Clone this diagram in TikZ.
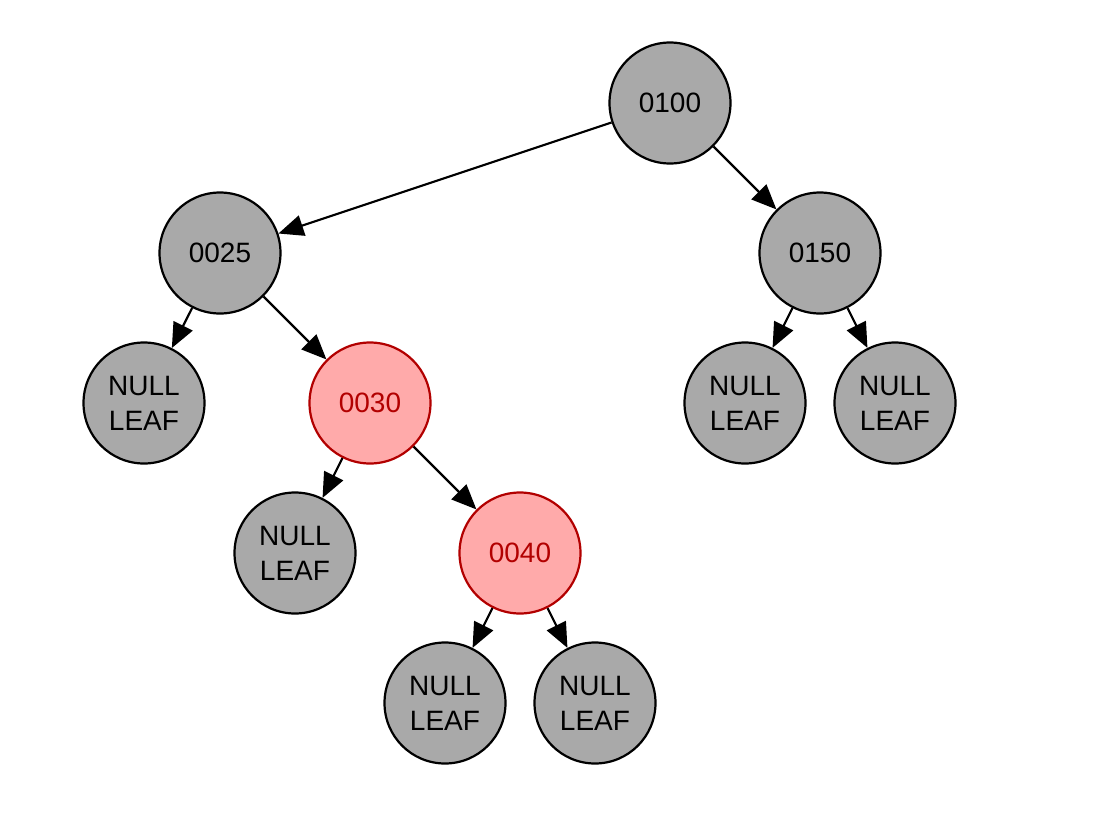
\documentclass[tikz,border=0pt]{standalone}
\usepackage{fontspec}
\setmainfont{Liberation Sans}
\usetikzlibrary{arrows.meta}
\definecolor{nodegray}{RGB}{169,169,169}
\definecolor{redfill}{RGB}{255,170,170}
\definecolor{redline}{RGB}{178,0,0}
\begin{document}
\begin{tikzpicture}[x=1pt,y=-1pt,
  treenode/.style={circle,draw=black,line width=2.2pt,fill=nodegray,minimum size=121pt,inner sep=0pt,
    font=\fontsize{28}{35}\selectfont,align=center,text=black},
  rednode/.style={treenode,draw=redline,fill=redfill,text=redline},
  edge/.style={line width=2.2pt,-{Triangle[length=25pt,width=21pt]}}]
\useasboundingbox (0,0) rectangle (1112,836);
\node[treenode] (n100) at (670,103) {0100};
\node[treenode] (n25)  at (220,253) {0025};
\node[treenode] (n150) at (820,253) {0150};
\node[treenode] (l1)   at (144,403) {NULL\\LEAF};
\node[rednode]  (n30)  at (370,403) {0030};
\node[treenode] (l2)   at (745,403) {NULL\\LEAF};
\node[treenode] (l3)   at (895,403) {NULL\\LEAF};
\node[treenode] (l4)   at (295,553) {NULL\\LEAF};
\node[rednode]  (n40)  at (520,553) {0040};
\node[treenode] (l5)   at (445,703) {NULL\\LEAF};
\node[treenode] (l6)   at (595,703) {NULL\\LEAF};
\draw[edge] (n100) -- (n25);
\draw[edge] (n100) -- (n150);
\draw[edge] (n25) -- (l1);
\draw[edge] (n25) -- (n30);
\draw[edge] (n150) -- (l2);
\draw[edge] (n150) -- (l3);
\draw[edge] (n30) -- (l4);
\draw[edge] (n30) -- (n40);
\draw[edge] (n40) -- (l5);
\draw[edge] (n40) -- (l6);
\end{tikzpicture}
\end{document}
